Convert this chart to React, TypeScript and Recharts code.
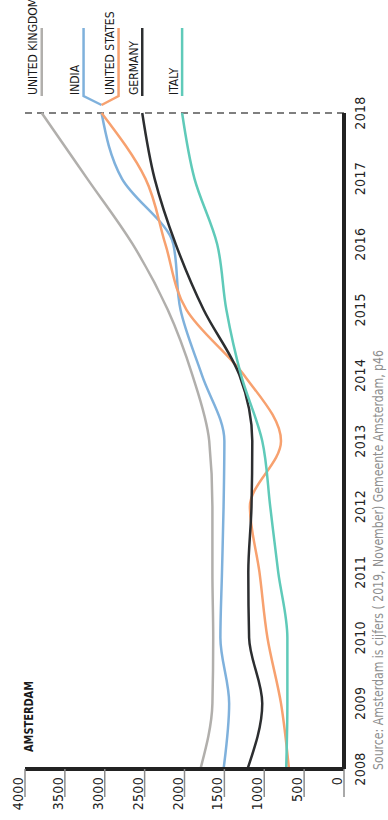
import React from "react";
import { LineChart, Line, XAxis, YAxis, ReferenceLine } from "recharts";

// years on the category axis
const years = [2008, 2009, 2010, 2011, 2012, 2013, 2014, 2015, 2016, 2017, 2018];

// visitors (x1000) per country
const unitedKingdom = [1800, 1650, 1640, 1650, 1650, 1690, 1900, 2210, 2650, 3220, 3790];
const india = [1510, 1440, 1550, 1530, 1510, 1500, 1780, 2050, 2140, 2785, 3040];
const unitedStates = [690, 790, 960, 1060, 1180, 790, 1250, 1975, 2240, 2490, 3040];
const germany = [1210, 1025, 1190, 1200, 1160, 1150, 1310, 1760, 2110, 2375, 2530];
const italy = [725, 710, 710, 825, 925, 1025, 1290, 1475, 1590, 1875, 2030];

const valueTicks = [0, 500, 1000, 1500, 2000, 2500, 3000, 3500, 4000];

const series = [
  { key: "uk", name: "UNITED KINGDOM", color: "#b1afac", values: unitedKingdom, shift: 0 },
  { key: "india", name: "INDIA", color: "#7fb1dc", values: india, shift: -18 },
  { key: "us", name: "UNITED STATES", color: "#f7a16f", values: unitedStates, shift: 17 },
  { key: "germany", name: "GERMANY", color: "#2c2e30", values: germany, shift: 0 },
  { key: "italy", name: "ITALY", color: "#5fcab9", values: italy, shift: 0 },
];

const data = years.map((year, i) => {
  const row: Record<string, number> = { year };
  series.forEach(s => (row[s.key] = s.values[i]));
  return row;
});

// chart is drawn lying down and turned a quarter turn
const W = 820;
const H = 388;
const PLOT_L = 51;
const PLOT_R = 707;
const PLOT_T = 25;
const PLOT_B = 344;
const X_AXIS_H = 30;
const FONT = "'Liberation Sans Narrow', 'DejaVu Sans Condensed', 'Roboto Condensed', sans-serif";

const valToPx = (v: number) => PLOT_T + (1 - v / 4000) * (PLOT_B - PLOT_T);

const YearTick = (props: any) => {
  const { x, payload } = props;
  return (
    <text x={x} y={PLOT_B + 21} textAnchor="middle" fontSize={14} fill="#222"
      fontFamily={FONT} letterSpacing={0.3}>
      {payload.value}
    </text>
  );
};

const ValueTick = (props: any) => {
  const { y, payload } = props;
  return (
    <g>
      <line x1={PLOT_L - 28} x2={PLOT_L} y1={y} y2={y} stroke="#8c8c8c" strokeWidth={1.5} />
      <text x={PLOT_L - 8} y={y - 2} textAnchor="end" fontSize={14} fill="#222"
        fontFamily={FONT} letterSpacing={0.3}>
        {payload.value}
      </text>
    </g>
  );
};

export default function App() {
  return (
    <div style={{ position: "fixed", left: 0, top: 0, width: 388, height: 820, background: "#fff", overflow: "hidden" }}>
      <div
        style={{
          position: "absolute", left: 0, top: 0, width: W, height: H,
          transformOrigin: "0 0", transform: `translateY(${W}px) rotate(-90deg)`,
        }}
      >
        <LineChart width={W} height={H} data={data}
          margin={{ top: PLOT_T, right: W - PLOT_R, bottom: H - PLOT_B - X_AXIS_H, left: 0 }}>
          <XAxis dataKey="year" type="number" domain={[2008, 2018]} ticks={years} interval={0}
            height={X_AXIS_H} tickLine={false} axisLine={{ stroke: "#222", strokeWidth: 4 }}
            tick={<YearTick />} />
          <YAxis domain={[0, 4000]} ticks={valueTicks} interval={0} width={PLOT_L}
            tickLine={false} axisLine={{ stroke: "#222", strokeWidth: 4 }} tick={<ValueTick />} />
          <ReferenceLine x={2018} stroke="#555" strokeWidth={1.5} strokeDasharray="7 5" />
          {series.map(s => (
            <Line key={s.key} dataKey={s.key} type="monotone" stroke={s.color} strokeWidth={2.5}
              dot={false} activeDot={false} isAnimationActive={false} />
          ))}
        </LineChart>
        <svg width={W} height={H} style={{ position: "absolute", left: 0, top: 0, pointerEvents: "none" }}>
          <text x={68} y={33} fontSize={13} fontWeight={700} fill="#1a1a1a" fontFamily={FONT}
            textLength={71} lengthAdjust="spacingAndGlyphs">
            AMSTERDAM
          </text>
          <text x={50} y={383} fontSize={13.5} fill="#8f8f8f" fontFamily={FONT}
            textLength={420} lengthAdjust="spacingAndGlyphs">
            Source:  Amsterdam is cijfers ( 2019, November) Gemeente Amsterdam, p46
          </text>
          {series.map(s => {
            const endV = valToPx(s.values[s.values.length - 1]);
            const lineV = endV + s.shift;
            const pts = s.shift
              ? `${PLOT_R + 8},${endV} ${PLOT_R + 17},${lineV} ${PLOT_R + 85},${lineV}`
              : `${PLOT_R + 17},${lineV} ${PLOT_R + 85},${lineV}`;
            return (
              <g key={s.key}>
                <polyline points={pts} fill="none" stroke={s.color} strokeWidth={2.5} />
                <text x={PLOT_R + 18} y={lineV - 4.5} fontSize={12} fill="#1a1a1a" fontFamily={FONT}>
                  {s.name}
                </text>
              </g>
            );
          })}
        </svg>
      </div>
    </div>
  );
}
